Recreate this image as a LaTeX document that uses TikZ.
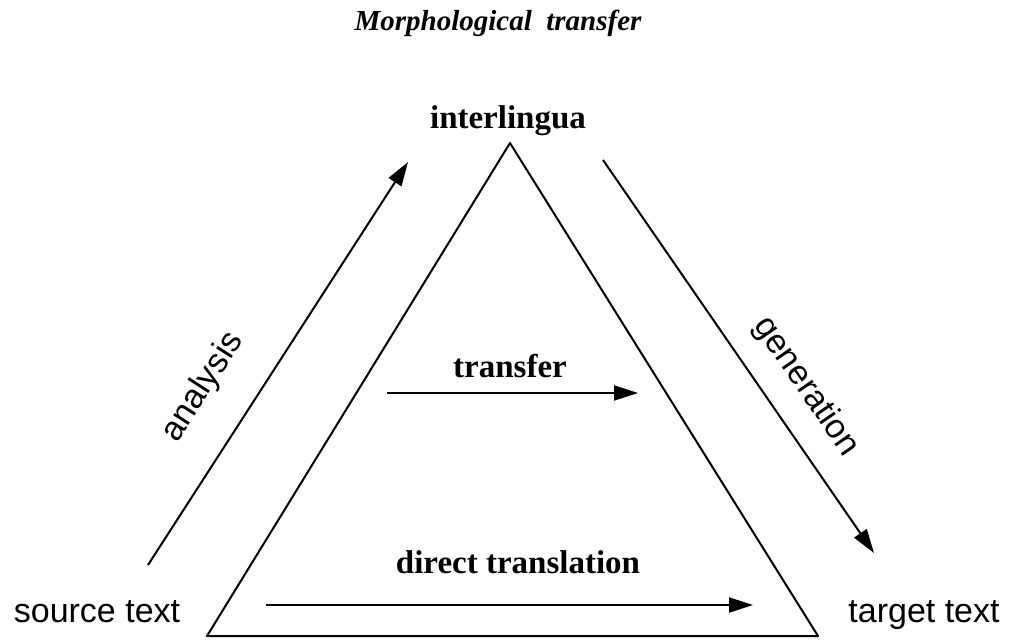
\documentclass[tikz,border=0pt]{standalone}
\usepackage{fontspec}
\setmainfont{Liberation Serif}
\newfontfamily\lsans{Liberation Sans}
\usetikzlibrary{arrows.meta}
\begin{document}
\begin{tikzpicture}[x=1pt,y=-1pt,
  edge/.style={line width=2pt,line join=round},
  flow/.style={line width=2pt,-{Triangle[length=24pt,width=15pt]}},
  serifbold/.style={inner sep=0pt,font=\fontsize{33}{40}\selectfont\bfseries},
  sanslabel/.style={inner sep=0pt,font=\lsans\fontsize{34}{40}\selectfont},
  titletext/.style={inner sep=0pt,font=\fontsize{29}{34}\selectfont\bfseries\itshape}]
\useasboundingbox (0,0) rectangle (1011,641);
% triangle corners
\coordinate (apex) at (510,143);
\coordinate (bl) at (207,636);
\coordinate (br) at (818,636);
\draw[edge] (bl) -- (apex) -- (br) -- cycle;
% arrow end points
\coordinate (anS) at (148,565);
\coordinate (anE) at (408,162);
\coordinate (geS) at (603,160);
\coordinate (geE) at (874,553);
\coordinate (trS) at (387,393);
\coordinate (trE) at (638,393);
\coordinate (diS) at (266,605);
\coordinate (diE) at (753,605);
\draw[flow] (anS) -- (anE);
\draw[flow] (geS) -- (geE);
\draw[flow] (trS) -- (trE);
\draw[flow] (diS) -- (diE);
% texts
\node[titletext,anchor=base] (title) at (498,30) {Morphological\hspace{0.25em} transfer};
\node[serifbold,anchor=base] (inter) at (508,128) {interlingua};
\node[serifbold,anchor=base] (trans) at (510,377) {transfer};
\node[serifbold,anchor=base] (direct) at (518,573) {direct translation};
\node[sanslabel,anchor=base] (src) at (97,622) {source text};
\node[sanslabel,anchor=base] (tgt) at (924,622) {target text};
\node[sanslabel,rotate=57.2] (anl) at (203,387) {analysis};
\node[sanslabel,rotate=-55.4] (gen) at (806,387) {generation};
\end{tikzpicture}
\end{document}
